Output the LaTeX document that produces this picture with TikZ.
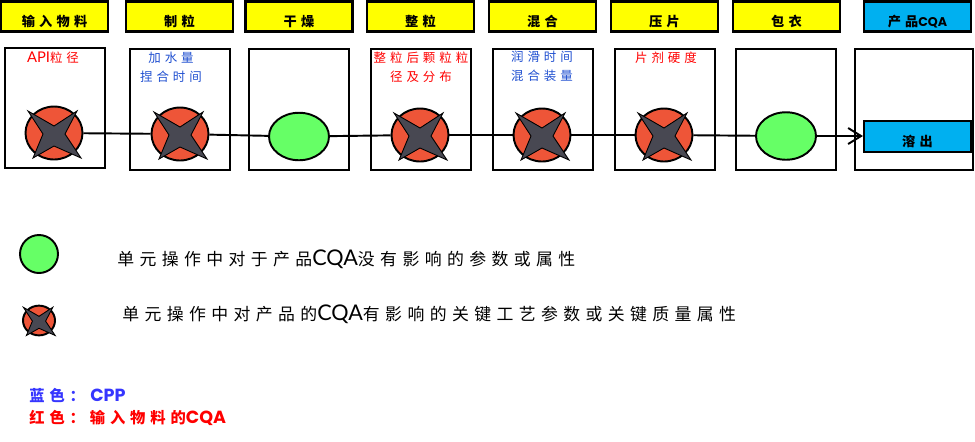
\documentclass[tikz,border=0pt]{standalone}
\usepackage{fontspec}
\usetikzlibrary{arrows.meta,shapes.geometric}
\setmainfont{Noto Sans CJK SC}
\newfontfamily\cjk[LetterSpace=32]{Noto Sans CJK SC}
\newfontfamily\latn{Lato}
\newfontfamily\latb{Poppins}
\definecolor{HeadYellow}{HTML}{FFFF00}
\definecolor{HeadBlue}{HTML}{00B0F0}
\definecolor{MarkGreen}{HTML}{66FF66}
\definecolor{MarkRed}{HTML}{EE5538}
\definecolor{MarkInk}{HTML}{484852}
\definecolor{CppBlue}{HTML}{1F4FD0}
\definecolor{NoteBlue}{HTML}{3636FF}
\newcommand{\critmark}[4][1]{%
  \node[critical,minimum width=#4*0.02cm,minimum height=#4*0.0186cm] (#2) at (#3) {};
  \draw[crossmark,shift={(#2)},scale=#1] (-26,-22) -- (0,-7) -- (23,-22) -- (11,1)
    -- (27,25) -- (0,13) -- (-21,25) -- (-11,1) -- cycle;}

\begin{document}
\begin{tikzpicture}[
      x=0.02cm,y=-0.02cm,
      >={Straight Barb[length=2.6mm,width=3.2mm]},
      flow/.style={line width=1.1pt,draw=black},
      headbox/.style={draw=black,fill=HeadYellow,line width=1.2pt,minimum width=2.14cm,
        minimum height=0.6cm,inner sep=0pt,text height=1.12em,text depth=0pt,
        font=\cjk\fontsize{7.5}{10}\selectfont\bfseries},
      cqabox/.style={headbox,fill=HeadBlue},
      stagebox/.style={draw=black,line width=1.1pt,minimum width=2cm,minimum height=2.42cm,
        inner sep=0pt},
      param/.style={anchor=north,align=center,inner sep=0pt,
        font=\cjk\fontsize{7.1}{10.8}\selectfont},
      neutral/.style={ellipse,draw=black,fill=MarkGreen,line width=1.1pt,inner sep=0pt,
        minimum width=1.2cm,minimum height=0.95cm},
      keycircle/.style={circle,draw=black,fill=MarkGreen,line width=1.1pt,inner sep=0pt,
        minimum size=0.76cm},
      critical/.style={ellipse,draw=black,fill=MarkRed,line width=1.1pt,inner sep=0pt},
      crossmark/.style={draw=black,fill=MarkInk,line width=0.5pt,line join=miter},
      legendtext/.style={anchor=west,inner sep=0pt,font=\cjk\fontsize{9.6}{12}\selectfont},
      notetext/.style={anchor=west,inner sep=0pt,font=\cjk\fontsize{8.7}{12}\selectfont\bfseries}
    ]
    \useasboundingbox (0,0) rectangle (975,441);

    % column heads
    \node[headbox] (headfeed) at (54.5,16.5) {输入物料};
    \node[headbox] (headgran) at (179.5,16.5) {制粒};
    \node[headbox] (headdry) at (299,16.5) {干燥};
    \node[headbox] (headsize) at (420.5,16.5) {整粒};
    \node[headbox] (headblend) at (542.5,16.5) {混合};
    \node[headbox] (headpress) at (664.5,16.5) {压片};
    \node[headbox] (headcoat) at (786.5,16.5) {包衣};
    \node[cqabox] (headcqa) at (917.5,16.5) {产品{\latb\fontsize{7.2}{10}\selectfont CQA}};

    % stage frames
    \node[stagebox,minimum height=2.4cm] (boxfeed) at (55,108) {};
    \node[stagebox] (boxgran) at (180,109.5) {};
    \node[stagebox] (boxdry) at (299,109.5) {};
    \node[stagebox] (boxsize) at (421,109.5) {};
    \node[stagebox] (boxblend) at (543,109.5) {};
    \node[stagebox] (boxpress) at (665,109.5) {};
    \node[stagebox] (boxcoat) at (786,109.5) {};
    \node[stagebox,minimum width=2.36cm] (boxcqa) at (914,109.5) {};

    % parameters
    \node[param,text=red] (parfeed) at (53,52) {{\latn\fontsize{8.4}{10}\selectfont API}粒径};
    \node[param,text=CppBlue] (pargran) at (171,52) {加水量\\捏合时间};
    \node[param,text=red] (parsize) at (421,52) {整粒后颗粒粒\\径及分布};
    \node[param,text=CppBlue] (parblend) at (542,51) {润滑时间\\混合装量};
    \node[param,text=red] (parpress) at (666,52) {片剂硬度};

    % markers
    \critmark{markfeed}{54,133}{57}
    \critmark{markgran}{180,134}{57}
    \node[neutral] (markdry) at (299,136.5) {};
    \critmark{marksize}{420,135}{57}
    \critmark{markblend}{542,135}{57}
    \critmark{markpress}{664,135}{57}
    \node[neutral] (markcoat) at (786,136) {};
    \node[cqabox,minimum height=0.62cm] (dissolve) at (917.5,136.5) {溶出};

    % flow line
    \draw[flow] (markfeed) -- (markgran);
    \draw[flow] (markgran) -- (markdry);
    \draw[flow] (markdry) -- (marksize);
    \draw[flow] (marksize) -- (markblend);
    \draw[flow] (markblend) -- (markpress);
    \draw[flow] (markpress) -- (markcoat);
    \draw[flow,->] (markcoat) -- (markcoat -| dissolve.west);

    % legend
    \node[keycircle] (keygreen) at (39,254) {};
    \critmark[0.6]{keyred}{39,320.5}{32}
    \node[legendtext] (keygreentext) at (117,259) {单元操作中对于产品{\latn\fontsize{12.3}{12}\selectfont CQA}没有影响的参数或属性};
    \node[legendtext] (keyredtext) at (122,314) {单元操作中对产品的{\latn\fontsize{12.3}{12}\selectfont CQA}有影响的关键工艺参数或关键质量属性};
    \node[notetext,text=NoteBlue] (noteblue) at (29,395) {蓝色：\hspace{3pt}{\latb\fontsize{10}{12}\selectfont\bfseries CPP}};
    \node[notetext,text=red] (notered) at (29,418) {红色：输入物料的{\latb\fontsize{10}{12}\selectfont\bfseries CQA}};
  \end{tikzpicture}
\end{document}
